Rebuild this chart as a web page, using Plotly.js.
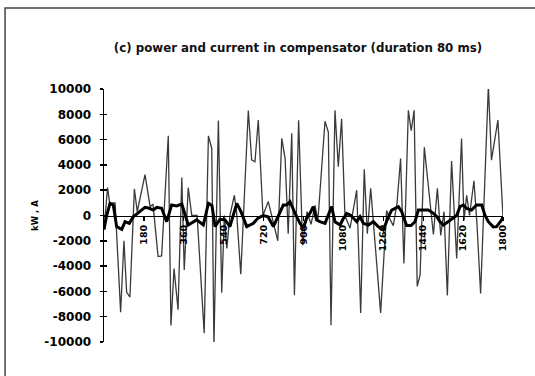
<!DOCTYPE html>
<html>
<head>
<meta charset="utf-8">
<script src="https://cdn.plot.ly/plotly-3.0.1.min.js"></script>
<style>
  html, body { margin: 0; padding: 0; background: #fff; }
  #chart { width: 535px; height: 376px; }
</style>
</head>
<body>
<div id="chart"></div>
<script>
// Power in compensator (kW) - thin line
const powerX = [0, 9, 16, 27, 36, 50, 75, 90, 102, 117, 137, 150, 185, 208, 221, 244, 260, 290, 302, 316, 334, 351, 362, 380, 396, 420, 452, 471, 486, 496, 516, 531, 543, 554, 568, 588, 598, 617, 651, 666, 681, 696, 717, 741, 764, 784, 802, 817, 831, 847, 859, 878, 896, 916, 934, 952, 965, 997, 1012, 1024, 1042, 1057, 1072, 1087, 1110, 1123, 1140, 1158, 1174, 1188, 1203, 1248, 1275, 1290, 1305, 1322, 1338, 1353, 1373, 1386, 1399, 1413, 1426, 1445, 1474, 1486, 1504, 1519, 1534, 1549, 1568, 1591, 1613, 1624, 1636, 1649, 1669, 1683, 1699, 1734, 1748, 1777, 1800];
const powerY = [-1100, 500, 2200, 800, 1000, 1000, -7640, -2000, -6050, -6450, 2100, 300, 3230, 700, 900, -3250, -3200, 6300, -8700, -4200, -7450, 3000, -4300, 2200, 0, 0, -9300, 6300, 5300, -10200, 7500, -6100, 0, -2600, 0, 1600, 300, -4650, 8300, 4400, 4250, 7550, 0, 1100, -500, -2000, 6100, 4500, -1440, 6500, -6300, 7530, -2360, 300, -700, 800, -400, 7450, 6600, -8680, 8320, 3860, 7650, 0, -1000, 400, 2000, -7700, 3650, -1440, 2150, -7700, 400, -300, -800, 1000, 4500, -3800, 8320, 6700, 8320, -5600, -4700, 5400, 280, -1500, 2150, -1570, 300, -6330, 4300, -3400, 6080, -400, 1600, 0, 2750, -800, -6170, 10250, 4370, 7540, -100];

// Current in compensator (A) - thick line
const currentX = [0, 12, 27, 42, 57, 80, 95, 114, 132, 148, 170, 185, 204, 222, 238, 260, 283, 305, 328, 351, 380, 418, 448, 471, 487, 501, 523, 546, 568, 599, 618, 644, 674, 695, 719, 740, 764, 785, 809, 824, 839, 862, 884, 899, 914, 929, 944, 959, 974, 997, 1010, 1027, 1042, 1065, 1078, 1095, 1114, 1140, 1155, 1170, 1192, 1215, 1237, 1260, 1283, 1298, 1328, 1343, 1365, 1385, 1403, 1418, 1439, 1463, 1486, 1502, 1516, 1531, 1552, 1570, 1591, 1606, 1621, 1636, 1658, 1681, 1704, 1719, 1734, 1756, 1771, 1794, 1800];
const currentY = [-1100, 0, 960, 830, -880, -1100, -490, -620, -100, 120, 380, 650, 570, 430, 650, 570, -490, 830, 750, 910, -750, -350, -750, 960, 800, -880, -300, -350, -880, 960, 300, -880, -620, -200, 0, -100, -880, -100, 830, 830, 1090, 170, -620, -1010, -220, 170, 700, -350, -490, -620, 0, 700, -500, -750, -300, 170, 0, -490, -100, -620, -750, -490, -880, -1150, -100, 430, 700, 300, -800, -800, -490, 430, 430, 430, 170, -100, -490, -750, -500, -300, 0, 700, 830, 550, 430, 830, 830, 0, -490, -900, -880, -350, -100];

const xTickVals = [180, 360, 540, 720, 900, 1080, 1260, 1440, 1620, 1800];
const xTickText = ["180", "360", "540", "720", "900", "1080", "1260", "1440", "1620", "1800"];
const yTickVals = [-10000, -8000, -6000, -4000, -2000, 0, 2000, 4000, 6000, 8000, 10000];
const yTickText = ["-10000", "-8000", "-6000", "-4000", "-2000", "0", "2000", "4000", "6000", "8000", "10000"];

const traces = [
  {
    x: powerX, y: powerY, type: 'scatter', mode: 'lines', name: 'power',
    line: { color: '#3a3a3a', width: 1.3 }
  },
  {
    x: currentX, y: currentY, type: 'scatter', mode: 'lines', name: 'current',
    line: { color: '#000000', width: 3 }
  }
];

const layout = {
  width: 535, height: 376,
  margin: { l: 104, r: 32, t: 89, b: 34 },
  paper_bgcolor: '#ffffff', plot_bgcolor: '#ffffff',
  showlegend: false,
  font: { family: 'DejaVu Sans, Arial, sans-serif', color: '#000' },
  title: {
    text: '(c) power and current in compensator (duration 80 ms)',
    font: { family: 'DejaVu Sans, Arial, sans-serif', size: 11.8, color: '#111', weight: 'bold' },
    xref: 'container', x: 0.557, xanchor: 'center',
    yref: 'container', y: 0.872, yanchor: 'middle'
  },
  xaxis: {
    range: [0, 1800],
    anchor: 'free', position: 0.5,
    showline: true, linecolor: '#000', linewidth: 1.5,
    showgrid: false, zeroline: false,
    tickmode: 'array', tickvals: xTickVals, ticktext: xTickText,
    ticks: 'outside', ticklen: 4, tickwidth: 1.2, tickcolor: '#000',
    tickangle: -90,
    tickfont: { family: 'DejaVu Sans, Arial, sans-serif', size: 9.5, color: '#000', weight: 'bold' }
  },
  yaxis: {
    range: [-10000, 10000],
    showline: true, linecolor: '#000', linewidth: 1.5,
    showgrid: false, zeroline: false,
    tickmode: 'array', tickvals: yTickVals, ticktext: yTickText,
    ticks: 'outside', ticklen: 3, tickwidth: 1.5, tickcolor: '#000',
    ticklabelstandoff: 6,
    tickfont: { family: 'DejaVu Sans, Arial, sans-serif', size: 12, color: '#000', weight: 'bold' },
    title: {
      text: 'kW , A', standoff: 4,
      font: { family: 'DejaVu Sans, Arial, sans-serif', size: 8.5, color: '#000', weight: 'bold' }
    }
  },
  yaxis2: {
    range: [-10000, 10000], overlaying: 'y', side: 'left', anchor: 'x',
    showline: false, showgrid: false, zeroline: false,
    tickmode: 'array', tickvals: yTickVals, showticklabels: false,
    ticks: 'inside', ticklen: 3, tickwidth: 1.5, tickcolor: '#000'
  },
  shapes: [
    { type: 'rect', xref: 'paper', yref: 'paper',
      x0: -0.248, x1: 1.2, y0: -0.3, y1: 1.32,
      line: { color: '#444', width: 1.5 }, fillcolor: 'rgba(0,0,0,0)', layer: 'below' }
  ]
};

// invisible helper trace so the inside tick marks of yaxis2 are drawn
traces.push({ x: [0], y: [0], yaxis: 'y2', type: 'scatter', mode: 'markers',
  marker: { opacity: 0 }, hoverinfo: 'skip', showlegend: false });

Plotly.newPlot('chart', traces, layout, { staticPlot: true, displayModeBar: false });
</script>
</body>
</html>
